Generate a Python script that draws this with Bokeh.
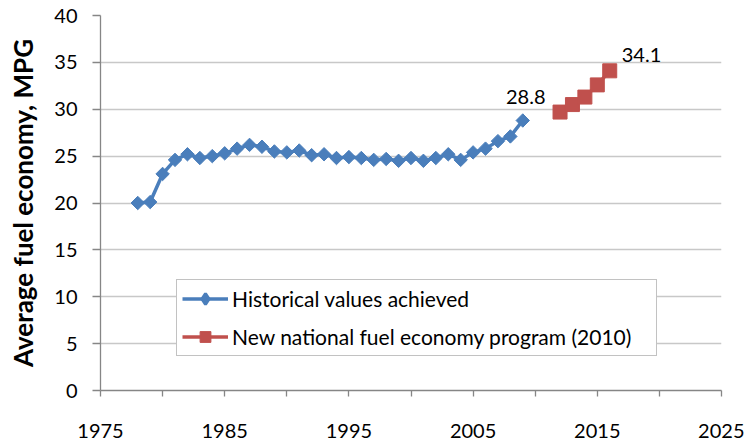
import math
from bokeh.plotting import figure
from bokeh.models import Range1d, FixedTicker, Legend, LegendItem, ColumnDataSource
from bokeh.core.properties import value
from bokeh.embed import file_html
from bokeh.resources import INLINE

hist_years = list(range(1978, 2010))
hist_mpg = [20.0, 20.1, 23.1, 24.6, 25.2, 24.8, 25.0, 25.3, 25.8, 26.2,
            26.0, 25.5, 25.4, 25.6, 25.1, 25.2, 24.8, 24.9, 24.8, 24.6,
            24.7, 24.5, 24.8, 24.5, 24.8, 25.2, 24.6, 25.4, 25.8, 26.6,
            27.1, 28.8]
new_years = [2012, 2013, 2014, 2015, 2016]
new_mpg = [29.7, 30.5, 31.3, 32.6, 34.1]

x_ticks = [1975, 1985, 1995, 2005, 2015, 2025]
x_minor = [1980, 1990, 2000, 2010, 2020]
y_ticks = [0, 5, 10, 15, 20, 25, 30, 35, 40]

hist_label = "Historical values achieved"
new_label = "New national fuel economy program (2010)"
y_title = "Average fuel economy, MPG"

BLUE = "#4a7ebb"
RED = "#c0504d"
AXIS = "#868686"
FONT = "Lato"

p = figure(width=744, height=440, output_backend="svg", toolbar_location=None,
           x_range=Range1d(1975, 2025), y_range=Range1d(0, 40),
           min_border_left=100, min_border_right=23, min_border_top=15, min_border_bottom=50)
p.outline_line_color = None
p.background_fill_color = "white"
p.border_fill_color = "white"

p.xgrid.visible = False
p.ygrid.grid_line_color = "#c8c8c8"
p.ygrid.grid_line_width = 1.3

p.xaxis.ticker = FixedTicker(ticks=x_ticks, minor_ticks=x_minor)
p.yaxis.ticker = FixedTicker(ticks=y_ticks)
for ax in (p.xaxis, p.yaxis):
    ax.axis_line_color = AXIS
    ax.axis_line_width = 1.3
    ax.major_tick_line_color = AXIS
    ax.minor_tick_line_color = AXIS
    ax.major_tick_line_width = 1.3
    ax.minor_tick_line_width = 1.3
    ax.major_tick_in = 0
    ax.minor_tick_in = 0
    ax.major_label_text_font = FONT
    ax.major_label_text_font_size = "20px"
    ax.major_label_text_color = "black"
p.xaxis.major_tick_out = 6
p.xaxis.minor_tick_out = 6
p.yaxis.major_tick_out = 8
p.yaxis.minor_tick_line_color = None
p.xaxis.major_label_standoff = 27
p.yaxis.major_label_standoff = 15
p.yaxis.axis_label = y_title
p.yaxis.axis_label_text_font = FONT
p.yaxis.axis_label_text_font_style = "bold"
p.yaxis.axis_label_text_font_size = "26px"
p.yaxis.axis_label_text_color = "black"
p.yaxis.axis_label_standoff = 12

hsrc = ColumnDataSource(dict(x=hist_years, y=hist_mpg))
nsrc = ColumnDataSource(dict(x=new_years, y=new_mpg))

hl = p.line("x", "y", source=hsrc, line_color=BLUE, line_width=3.5)
# small diamond, hidden under the rotated squares; used for the legend glyph
hleg = p.scatter("x", "y", source=hsrc, marker="diamond", size=6,
                 fill_color=BLUE, line_color=BLUE, line_width=3)
hm = p.scatter("x", "y", source=hsrc, marker="square", angle=math.pi / 4, size=9.5,
               fill_color=BLUE, line_color=BLUE)
nl = p.line("x", "y", source=nsrc, line_color=RED, line_width=3.5)
nm = p.scatter("x", "y", source=nsrc, marker="square", size=14,
               fill_color=RED, line_color=RED)

lab1 = ColumnDataSource(dict(x=[hist_years[-1]], y=[hist_mpg[-1]], t=["%.1f" % hist_mpg[-1]]))
lab2 = ColumnDataSource(dict(x=[new_years[-1]], y=[new_mpg[-1]], t=["%.1f" % new_mpg[-1]]))
p.text("x", "y", text="t", source=lab1, text_font=value(FONT), text_font_size="20px",
       text_align="center", text_baseline="alphabetic", y_offset=-24, x_offset=3)
p.text("x", "y", text="t", source=lab2, text_font=value(FONT), text_font_size="20px",
       text_align="left", text_baseline="alphabetic", y_offset=-16, x_offset=12)

legend = Legend(items=[LegendItem(label=hist_label, renderers=[hl, hleg]),
                       LegendItem(label=new_label, renderers=[nl, nm])],
                location=(76, 34))
legend.label_text_font = FONT
legend.label_text_font_size = "21px"
legend.label_text_color = "black"
legend.border_line_color = AXIS
legend.border_line_width = 1.3
legend.background_fill_alpha = 1
legend.glyph_width = 46
legend.glyph_height = 27
legend.label_standoff = 4
legend.label_width = 419
legend.padding = 5
legend.spacing = 11
legend.margin = 0
p.add_layout(legend, "center")

open("out.html", "w").write(file_html(p, INLINE))
